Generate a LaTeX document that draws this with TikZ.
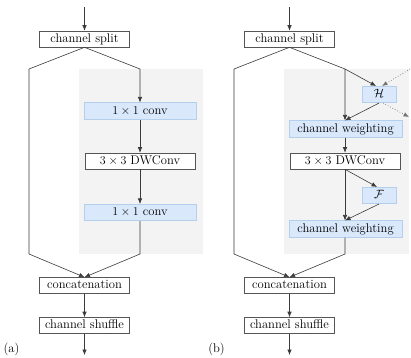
\documentclass[tikz,border=0pt]{standalone}
\usetikzlibrary{arrows.meta}
\definecolor{bgray}{HTML}{F3F3F3}
\definecolor{bfill}{HTML}{DAE8FC}
\definecolor{bline}{HTML}{B4CFEC}
\definecolor{lcol}{HTML}{555555}
\definecolor{acol}{HTML}{3A3A3A}
\begin{document}
\begin{tikzpicture}[x=1pt,y=-1pt,
  font=\fontsize{12.6}{15}\selectfont,
  every node/.style={inner sep=0pt, text height=8.6pt, text depth=2.6pt},
  wbox/.style={draw=lcol, fill=white, line width=0.6pt, minimum height=16pt},
  bbox/.style={draw=bline, fill=bfill, line width=0.6pt, minimum height=16.5pt},
  conn/.style={draw=acol, line width=0.6pt},
  arr/.style={conn, -{Latex[length=5.5pt,width=4.5pt]}},
  darr/.style={draw=black!55, line width=0.7pt, dotted, -{Latex[length=5.5pt,width=4.5pt]}}]
\useasboundingbox (0,0) rectangle (411,357);
% backgrounds
\fill[bgray] (79,69) rectangle (203,254);
\fill[bgray] (284,69) rectangle (409,254);

% ---------- panel (a) ----------
\coordinate (inA) at (84.5,7);
\coordinate (outA) at (84.5,355);
\coordinate (lA1) at (29,69);
\coordinate (lA2) at (29,254);
\coordinate (rA1) at (140,69);
\coordinate (rA2) at (140,254);
\node[wbox, minimum width=90pt] (splitA) at (84.5,39) {channel split};
\node[bbox, minimum width=112pt] (conv1A) at (140,111) {$1\times 1$ conv};
\node[wbox, minimum width=110pt] (dwA) at (140,161) {$3\times 3$ DWConv};
\node[bbox, minimum width=112pt] (conv2A) at (140,212.5) {$1\times 1$ conv};
\node[wbox, minimum width=90pt] (catA) at (84.5,285.5) {concatenation};
\node[wbox, minimum width=90pt] (shufA) at (84.5,325.5) {channel shuffle};
\node[anchor=center] (labA) at (11.5,349) {(a)};

\draw[arr] (inA) -- (splitA);
\draw[arr] (splitA.south) -- (lA1) -- (lA2) -- (catA.north);
\draw[arr] (splitA.south) -- (rA1) -- (conv1A.north);
\draw[arr] (conv1A) -- (dwA);
\draw[arr] (dwA) -- (conv2A);
\draw[arr] (conv2A.south) -- (rA2) -- (catA.north);
\draw[arr] (catA) -- (shufA);
\draw[arr] (shufA) -- (outA);

% ---------- panel (b) ----------
\coordinate (inB) at (289.5,7);
\coordinate (outB) at (289.5,355);
\coordinate (lB1) at (234,69);
\coordinate (lB2) at (234,254);
\coordinate (rB1) at (345,69);
\coordinate (rB2) at (345,254);
\coordinate (dIn) at (410,69);
\coordinate (dOut) at (409,117);
\node[wbox, minimum width=90pt] (splitB) at (289.5,39) {channel split};
\node[bbox, minimum width=34pt] (H) at (379,94.5) {$\mathcal{H}$};
\node[bbox, minimum width=113pt] (cw1) at (345.5,129) {channel weighting};
\node[wbox, minimum width=110pt] (dwB) at (345,161) {$3\times 3$ DWConv};
\node[bbox, minimum width=34pt] (F) at (379,195.5) {$\mathcal{F}$};
\node[bbox, minimum width=113pt] (cw2) at (345.5,229) {channel weighting};
\node[wbox, minimum width=90pt] (catB) at (289.5,285.5) {concatenation};
\node[wbox, minimum width=90pt] (shufB) at (289.5,325.5) {channel shuffle};
\node[anchor=center] (labB) at (216.5,349) {(b)};

\draw[arr] (inB) -- (splitB);
\draw[arr] (splitB.south) -- (lB1) -- (lB2) -- (catB.north);
\draw[arr] (splitB.south) -- (rB1) -- ([xshift=-0.5pt]cw1.north);
\draw[arr] (rB1) -- ([xshift=-3pt]H.north);
\draw[darr] (dIn) -- ([xshift=3pt]H.north);
\draw[darr] ([xshift=4pt]H.south) -- (dOut);
\draw[arr] (H.south) -- ([xshift=-0.5pt]cw1.north);
\draw[arr] ([xshift=-0.5pt]cw1.south) -- (dwB.north);
\draw[arr] (dwB.south) -- ([xshift=-0.5pt]cw2.north);
\draw[arr] (dwB.south) -- ([xshift=-2pt]F.north);
\draw[arr] (F.south) -- ([xshift=-0.5pt]cw2.north);
\draw[arr] ([xshift=-0.5pt]cw2.south) -- (rB2) -- (catB.north);
\draw[arr] (catB) -- (shufB);
\draw[arr] (shufB) -- (outB);
\end{tikzpicture}
\end{document}
